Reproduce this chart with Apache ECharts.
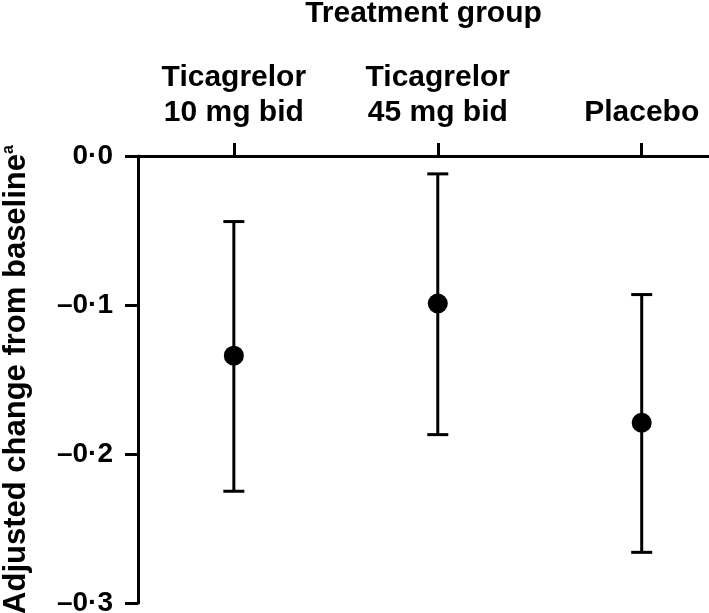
<!DOCTYPE html>
<html>
<head>
    <meta charset="utf-8">
    <title>Treatment group</title>
    <script src="https://cdn.jsdelivr.net/npm/echarts@6/dist/echarts.min.js"></script>
</head>
<body style="margin:0">
<div id="main" style="width: 709px;height:613px;"></div>
<script type="text/javascript">
// groups and adjusted change values
var groups = ['Ticagrelor\n10 mg bid', 'Ticagrelor\n45 mg bid', 'Placebo'];
var groupPos = [1, 2, 3];
var means = [-0.134, -0.099, -0.179];
var lower = [-0.225, -0.187, -0.266];
var upper = [-0.044, -0.012, -0.093];

var font = 'Liberation Sans, Arial, sans-serif';

var meanData = groupPos.map(function (p, i) { return [p, means[i]]; });
var barData = groupPos.map(function (p, i) { return [p, lower[i], upper[i]]; });

function fmtY(v) {
    var s = Math.abs(v).toFixed(1).replace('.', '\u00b7');
    return (v < -1e-9 ? '\u2013' : '') + s;
}

var myChart = echarts.init(document.getElementById('main'));
myChart.setOption({
    backgroundColor: '#fff',
    animation: false,
    grid: { left: 138, right: 0, top: 156, bottom: 10, containLabel: false, outerBoundsMode: 'none' },
    xAxis: {
        type: 'value',
        position: 'top',
        min: 0.53,
        max: 3.33,
        name: 'Treatment group',
        nameLocation: 'middle',
        nameGap: 127,
        nameTextStyle: { fontFamily: font, fontWeight: 'bold', fontSize: 30, color: '#000' },
        axisLine: { lineStyle: { color: '#000', width: 3 } },
        axisTick: { show: true, length: 13, inside: false, customValues: groupPos, lineStyle: { color: '#000', width: 3 } },
        axisLabel: {
            customValues: groupPos,
            margin: 26,
            fontFamily: font, fontWeight: 'bold', fontSize: 30, color: '#000', lineHeight: 35,
            formatter: function (v) { return groups[Math.round(v) - 1] || ''; }
        },
        splitLine: { show: false }
    },
    yAxis: {
        type: 'value',
        min: -0.3,
        max: 0,
        interval: 0.1,
        name: 'Adjusted change from baseline{sup|a}',
        nameLocation: 'middle',
        nameGap: 106,
        nameTextStyle: {
            fontFamily: font, fontWeight: 'bold', fontSize: 31, color: '#000',
            rich: { sup: { fontFamily: font, fontWeight: 'bold', fontSize: 16, color: '#000', verticalAlign: 'top', padding: [0, 0, 14, 0] } }
        },
        axisLine: { lineStyle: { color: '#000', width: 3 } },
        axisTick: { length: 13, lineStyle: { color: '#000', width: 3 } },
        axisLabel: {
            margin: 25,
            fontFamily: font, fontWeight: 'bold', fontSize: 28, color: '#000',
            formatter: fmtY
        },
        splitLine: { show: false }
    },
    series: [
        {
            type: 'custom',
            data: barData,
            renderItem: function (params, api) {
                var top = api.coord([api.value(0), api.value(2)]);
                var bot = api.coord([api.value(0), api.value(1)]);
                var half = 10.5;
                var st = { stroke: '#000', lineWidth: 3 };
                return {
                    type: 'group',
                    children: [
                        { type: 'line', shape: { x1: top[0], y1: top[1], x2: bot[0], y2: bot[1] }, style: st },
                        { type: 'line', shape: { x1: top[0] - half, y1: top[1], x2: top[0] + half, y2: top[1] }, style: st },
                        { type: 'line', shape: { x1: bot[0] - half, y1: bot[1], x2: bot[0] + half, y2: bot[1] }, style: st }
                    ]
                };
            },
            z: 2
        },
        {
            type: 'scatter',
            data: meanData,
            symbol: 'circle',
            symbolSize: 20,
            itemStyle: { color: '#000', opacity: 1 },
            z: 3
        }
    ]
});
</script>
</body>
</html>
